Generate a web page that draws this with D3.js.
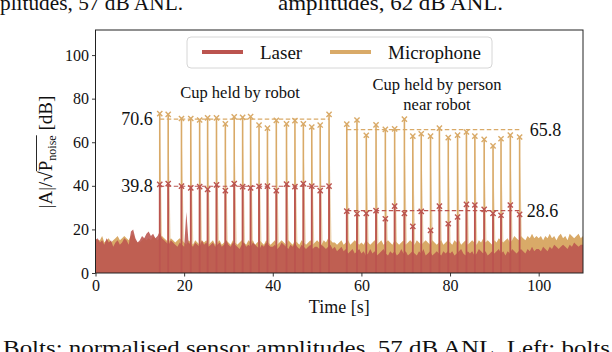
<!DOCTYPE html>
<html>
<head>
<meta charset="utf-8">
<script src="https://cdn.jsdelivr.net/npm/d3@7"></script>
<style>
  body { margin: 0; background: #fff; }
  svg text { font-family: "Liberation Serif", "DejaVu Serif", serif; fill: #111; }
</style>
</head>
<body>
<div id="chart"></div>
<script>
/* Data */
const timeStep = 0.5; // seconds between noise samples, starting at t = 0

const laserNoise = [
  15,16,14,15,13,16,14,15,12,14,15,13,14,16,15,13,19,20,16,14,
  15,17,16,18,19,17,18,16,17,19,16,15,14,13,15,14,13,12,14,13,
  12,28,14,13,12,14,13,12,15,13,14,12,13,14,12,13,14,12,13,15,
  13,12,14,13,12,11,13,14,12,13,12,14,13,12,11,13,12,14,13,12,
  12,13,11,12,14,13,12,11,13,12,14,12,11,13,12,11,12,13,11,12,
  12,11,13,12,11,12,13,11,12,10,11,12,10,11,9,10,11,9,10,11,
  9,10,8,9,11,9,10,8,9,10,11,9,8,10,9,10,8,9,11,9,
  10,8,9,10,9,8,10,9,11,8,9,10,8,9,10,9,8,10,9,10,
  9,10,8,9,10,11,9,8,10,9,10,8,9,11,10,9,10,8,9,10,
  9,10,11,9,10,8,10,9,11,10,9,10,11,10,9,11,10,12,10,11,
  11,10,12,11,10,12,11,13,12,11,12,13,12,11,13,12,14,13,12,13,
  13
];

const micNoise = [
  16,15,15,17,14,15,16,14,15,16,17,15,16,17,16,15,17,18,15,14,
  14,15,16,15,16,15,17,16,15,16,17,16,15,14,16,15,14,15,16,15,
  14,13,15,14,13,15,14,13,15,14,15,13,14,15,13,14,15,13,14,15,
  14,13,15,14,13,14,15,14,13,15,14,15,13,14,15,14,13,15,14,13,
  14,15,13,14,15,14,13,15,14,13,15,14,13,15,14,13,14,15,13,14,
  15,14,13,15,14,16,15,14,14,13,14,15,13,14,15,13,14,15,14,13,
  14,13,15,14,13,14,15,13,14,15,13,14,15,14,13,15,14,13,14,15,
  13,14,15,14,13,15,14,13,14,15,14,13,15,14,13,14,15,13,14,15,
  14,13,15,14,15,13,14,15,13,14,15,14,13,15,14,16,14,15,14,13,
  15,14,16,15,14,15,16,14,15,17,16,15,17,16,15,17,16,18,16,17,
  16,17,15,17,16,18,16,17,15,17,18,16,17,15,18,17,16,17,18,16,
  17
];

// Cup held by robot: tap times and peak amplitudes
const robotTimes = [14.5,16.4,19.4,21.5,23.5,25.3,27.3,29.3,31.3,33.2,
                    35.0,36.9,38.8,40.8,43.1,45.0,46.9,48.8,50.7,52.7];
const robotMic   = [73.1,72.8,70.9,70.9,70.2,71.2,71.2,68.4,71.6,71.4,
                    71.8,67.9,66.5,70.0,68.4,69.9,68.4,67.0,67.9,72.8];
const robotLaser = [40.7,41.0,39.9,39.1,39.6,38.4,40.4,37.8,41.0,39.6,
                    39.1,39.8,39.9,37.8,40.8,39.6,41.0,39.9,37.8,39.9];

// Cup held by person near robot
const personTimes = [56.7,59.0,61.1,63.3,65.4,67.5,69.7,71.6,73.5,75.6,
                     77.6,79.6,81.7,83.7,85.6,87.7,89.7,91.5,93.6,95.7];
const personMic   = [68.3,70.2,63.2,68.0,65.9,66.1,70.6,62.8,63.9,62.8,
                     66.5,62.1,63.3,64.7,62.8,61.3,58.3,61.6,63.3,62.4];
const personLaser = [28.4,27.2,27.4,28.6,24.9,30.7,27.4,21.4,28.3,19.6,
                     30.7,22.6,25.7,31.5,31.2,29.2,27.4,26.5,31.2,26.9];

const meanRobotMic = 70.6, meanRobotLaser = 39.8;
const meanPersonMic = 65.8, meanPersonLaser = 28.6;

const xTicks = [0, 20, 40, 60, 80, 100];
const yTicks = [0, 20, 40, 60, 80, 100];
const seriesNames = ["Laser", "Microphone"];

/* Style */
const laserColor = "#bb544f";
const micColor = "#d9aa68";

/* Dimensions */
const W = 612, H = 352;
const plot = { left: 95.5, right: 583, top: 30, bottom: 273 };

const svg = d3.select("#chart").append("svg")
  .attr("width", W).attr("height", H);

const x = d3.scaleLinear().domain([0, 110]).range([plot.left, plot.right]);
const y = d3.scaleLinear().domain([0, 111.5]).range([plot.bottom, plot.top]);

/* Surrounding caption fragments (cut by the page edges, as in the source) */
svg.append("text").attr("x", 0).attr("y", 10).style("font-size", "21px")
  .attr("textLength", 183).attr("lengthAdjust", "spacingAndGlyphs")
  .text("plitudes, 57 dB ANL.");
svg.append("text").attr("x", 278).attr("y", 10).style("font-size", "21px")
  .attr("textLength", 225).attr("lengthAdjust", "spacingAndGlyphs")
  .text("amplitudes, 62 dB ANL.");
svg.append("text").attr("x", 3).attr("y", 355).style("font-size", "22px")
  .attr("textLength", 607).attr("lengthAdjust", "spacingAndGlyphs")
  .text("Bolts: normalised sensor amplitudes, 57 dB ANL. Left: bolts");

const g = svg.append("g");
g.append("clipPath").attr("id", "clip").append("rect")
  .attr("x", plot.left).attr("y", plot.top)
  .attr("width", plot.right - plot.left).attr("height", plot.bottom - plot.top);
const pg = g.append("g").attr("clip-path", "url(#clip)");

/* Noise floors */
const area = d3.area()
  .x((d, i) => x(i * timeStep))
  .y0(y(0))
  .y1(d => y(d));

pg.append("path").datum(micNoise).attr("d", area).attr("fill", micColor);

// microphone taps: decay tail + spike
function micTaps(times, vals) {
  times.forEach((t, i) => {
    pg.append("path")
      .attr("d", d3.line()([[x(t) - 0.5, y(0)], [x(t), y(vals[i] * 0.98)], [x(t + 0.7), y(0)]]))
      .attr("fill", micColor).attr("opacity", 0.5);
    pg.append("line")
      .attr("x1", x(t)).attr("x2", x(t)).attr("y1", y(0)).attr("y2", y(vals[i]))
      .attr("stroke", micColor).attr("stroke-width", 1.6);
  });
}
micTaps(robotTimes, robotMic);
micTaps(personTimes, personMic);

pg.append("path").datum(laserNoise).attr("d", area)
  .attr("fill", laserColor).attr("fill-opacity", 0.88);

function laserTaps(times, vals) {
  times.forEach((t, i) => {
    pg.append("line")
      .attr("x1", x(t)).attr("x2", x(t)).attr("y1", y(0)).attr("y2", y(vals[i]))
      .attr("stroke", laserColor).attr("stroke-width", 1.8);
  });
}
laserTaps(robotTimes, robotLaser);
laserTaps(personTimes, personLaser);

/* Mean lines, markers, labels */
function meanLine(times, v, color) {
  g.append("line")
    .attr("x1", x(times[0])).attr("x2", x(times[times.length - 1]))
    .attr("y1", y(v)).attr("y2", y(v))
    .attr("stroke", color).attr("stroke-width", 1.2)
    .attr("stroke-dasharray", "4.5,2.5");
}
meanLine(robotTimes, meanRobotMic, micColor);
meanLine(personTimes, meanPersonMic, micColor);
meanLine(robotTimes, meanRobotLaser, laserColor);
meanLine(personTimes, meanPersonLaser, laserColor);

function markers(times, vals, color) {
  const s = 2.6;
  times.forEach((t, i) => {
    const cx = x(t), cy = y(vals[i]);
    g.append("path")
      .attr("d", `M${cx - s},${cy - s}L${cx + s},${cy + s}M${cx - s},${cy + s}L${cx + s},${cy - s}`)
      .attr("stroke", color).attr("stroke-width", 1.4).attr("fill", "none");
  });
}
markers(robotTimes, robotMic, micColor);
markers(personTimes, personMic, micColor);
markers(robotTimes, robotLaser, laserColor);
markers(personTimes, personLaser, laserColor);

function valueLabel(v, xp, anchor) {
  g.append("text").attr("x", xp).attr("y", y(v) + 6)
    .attr("text-anchor", anchor).style("font-size", "18px").text(v.toFixed(1));
}
valueLabel(meanRobotMic, x(robotTimes[0]) - 7, "end");
valueLabel(meanRobotLaser, x(robotTimes[0]) - 7, "end");
valueLabel(meanPersonMic, x(personTimes[personTimes.length - 1]) + 10, "start");
valueLabel(meanPersonLaser, x(personTimes[personTimes.length - 1]) + 7, "start");

/* Annotations */
g.append("text").attr("x", 240).attr("y", 98).attr("text-anchor", "middle")
  .style("font-size", "16.5px").text("Cup held by robot");
g.append("text").attr("x", 437).attr("y", 90).attr("text-anchor", "middle")
  .style("font-size", "16.5px").text("Cup held by person");
g.append("text").attr("x", 437).attr("y", 110).attr("text-anchor", "middle")
  .style("font-size", "16.5px").text("near robot");

/* Axes */
const xAxis = g.append("g").attr("transform", `translate(0,${plot.bottom})`)
  .call(d3.axisBottom(x).tickValues(xTicks).tickSize(3.5).tickPadding(3));
const yAxis = g.append("g").attr("transform", `translate(${plot.left},0)`)
  .call(d3.axisLeft(y).tickValues(yTicks).tickSize(3.5).tickPadding(3));
[xAxis, yAxis].forEach(a => {
  a.select(".domain").remove();
  a.selectAll("text").style("font-size", "16px")
    .style("font-family", "'Liberation Serif', serif").attr("fill", "#111");
  a.selectAll("line").attr("stroke", "#222").attr("stroke-width", 0.9);
});

g.append("rect")
  .attr("x", plot.left).attr("y", plot.top)
  .attr("width", plot.right - plot.left).attr("height", plot.bottom - plot.top)
  .attr("fill", "none").attr("stroke", "#222").attr("stroke-width", 1);

svg.append("text").attr("x", (plot.left + plot.right) / 2).attr("y", 313)
  .attr("text-anchor", "middle").style("font-size", "18px").text("Time [s]");

// y label with overline over P_noise
const yl = svg.append("g").attr("transform", "translate(52,152) rotate(-90)");
const ylt = yl.append("text").attr("text-anchor", "middle").style("font-size", "19px");
ylt.append("tspan").text("|A|/\u221A");
ylt.append("tspan").text("P");
ylt.append("tspan").attr("dy", 4).style("font-size", "12px").text("noise");
ylt.append("tspan").attr("dy", -4).text(" [dB]");
const nd = ylt.node();
const sq = nd.getExtentOfChar(4), pStart = nd.getExtentOfChar(5), nEnd = nd.getExtentOfChar(10);
yl.append("line")
  .attr("x1", pStart.x).attr("x2", nEnd.x + nEnd.width)
  .attr("y1", sq.y + 1.5).attr("y2", sq.y + 1.5)
  .attr("stroke", "#111").attr("stroke-width", 0.9);

/* Legend */
const lg = g.append("g");
lg.append("rect").attr("x", 187).attr("y", 37).attr("width", 305).attr("height", 31)
  .attr("rx", 4).attr("fill", "#fff").attr("fill-opacity", 0.85)
  .attr("stroke", "#d6d6d6").attr("stroke-width", 1);
const legendColors = [laserColor, micColor];
const legendX = [202, 330];
seriesNames.forEach((name, i) => {
  lg.append("line").attr("x1", legendX[i]).attr("x2", legendX[i] + 41)
    .attr("y1", 52).attr("y2", 52)
    .attr("stroke", legendColors[i]).attr("stroke-width", 4);
  lg.append("text").attr("x", legendX[i] + 58).attr("y", 58.5)
    .style("font-size", "19px").text(name);
});
</script>
</body>
</html>
